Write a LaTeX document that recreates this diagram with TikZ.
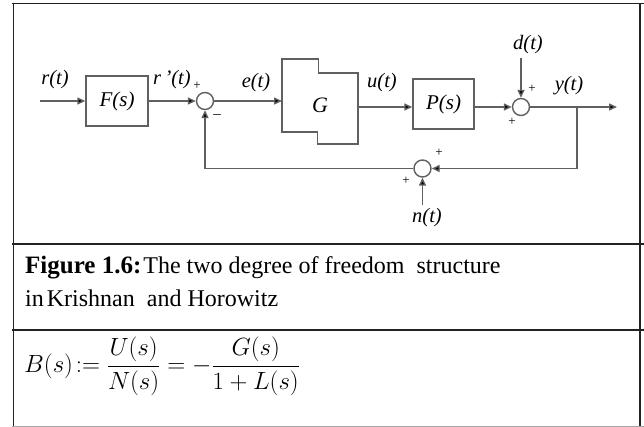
\documentclass[tikz,border=0pt]{standalone}
\usepackage{fontspec}
\usepackage{graphicx}
\setmainfont{Liberation Serif}
\usetikzlibrary{arrows.meta}
\definecolor{linegray}{HTML}{606060}
\definecolor{tablegray}{HTML}{222222}
\tikzset{
  conn/.style={draw=linegray, line width=1.4pt},
  arr/.style={conn, -{Triangle[length=8pt,width=7pt,fill=black]}},
  blk/.style={draw=linegray, line width=1.4pt, inner sep=0pt, font=\fontsize{21}{21}\selectfont\itshape},
  sumc/.style={circle, draw=linegray, line width=1.4pt, minimum size=17pt, inner sep=0pt},
  sig/.style={inner sep=0pt, font=\fontsize{20.5}{20.5}\selectfont\itshape},
  sgn/.style={inner sep=0pt, font=\fontsize{13}{13}\selectfont},
  tline/.style={draw=tablegray, line width=1.8pt}
}
\begin{document}
\begin{tikzpicture}[x=1pt,y=-1pt]
\useasboundingbox (0,0) rectangle (644,427);
\fill[white] (0,0) rectangle (644,427);
% table
\draw[tline] (12,3.5) -- (644,3.5);
\draw[tline] (12,244) -- (644,244);
\draw[tline] (12,330) -- (644,330);
\draw[tline] (13.5,3.5) -- (13.5,427);
\draw[tline] (640,3.5) -- (640,427);
\draw[draw=gray!70, line width=0.8pt] (12,426) -- (644,426);
% blocks
\node[blk, minimum width=62pt, minimum height=50pt] (F) at (117,101) {F(s)};
\node[blk, minimum width=61pt, minimum height=50pt] (P) at (443.5,104) {P(s)};
\node[sumc] (s1) at (205,101) {};
\node[sumc] (s2) at (521,107) {};
\node[sumc] (s3) at (422.5,168.5) {};
% G block
\draw[conn] (282,59) -- (318.5,59) -- (318.5,73) -- (358,73) -- (358,144) -- (317.5,144) -- (317.5,132) -- (282,132) -- cycle;
\node[inner sep=0pt, font=\fontsize{22}{22}\selectfont\itshape] (G) at (320,105) {G};
\coordinate (Gin) at (282,101);
\coordinate (Gout) at (358,107);
\coordinate (in) at (40,101);
\coordinate (dtop) at (521,58);
\coordinate (yout) at (617,107);
\coordinate (br) at (577,107);
\coordinate (brd) at (577,168.5);
\coordinate (fbl) at (205,168.5);
\coordinate (nb) at (422.5,205);
% connectors
\draw[arr] (in) -- (F.west);
\draw[arr] (F.east) -- (s1.west);
\draw[arr] (s1.east) -- (Gin);
\draw[arr] (Gout) -- (Gout -| P.west);
\draw[arr] (P.east |- s2) -- (s2.west);
\draw[arr] (dtop) -- (s2.north);
\draw[arr] (s2.east) -- (yout);
\draw[arr] (br) -- (brd) -- (s3.east);
\draw[arr] (nb) -- (s3.south);
\draw[arr] (s3.west) -- (fbl) -- (s1.south);
% signal labels
\node[sig] (lr) at (55,80) {r(t)};
\node[sig] (lrp) at (172,80) {r\,’(t)};
\node[sig] (le) at (256,83) {e(t)};
\node[sig] (lu) at (382,83) {u(t)};
\node[sig] (ld) at (528,45) {d(t)};
\node[sig] (ly) at (569,86) {y(t)};
\node[sig] (ln) at (427,218) {n(t)};
% signs
\node[sgn] (p1) at (197,86) {+};
\node[sgn, font=\fontsize{15}{15}\selectfont] (m1) at (217,117) {–};
\node[sgn] (p2a) at (532,89) {+};
\node[sgn] (p2b) at (512,122) {+};
\node[sgn] (p3a) at (439,153) {+};
\node[sgn] (p3b) at (406,181) {+};
% caption
\node[anchor=base west, inner sep=0pt, font=\fontsize{24}{30}\selectfont] (cap1) at (25,273)
  {{\fontsize{25}{30}\selectfont\bfseries Figure 1.6:}\hspace{2pt}The two degree of freedom\ \ structure};
\node[anchor=base west, inner sep=0pt, font=\fontsize{24}{30}\selectfont] (cap2) at (25,306)
  {in\hspace{3pt}Krishnan\ \ and Horowitz};
% formula
\node[anchor=west, inner sep=0pt, font=\fontsize{24.5}{25}\selectfont] (eq) at (24,366)
  {$\displaystyle B(s)\!:=\frac{U(s)}{N(s)}=-\frac{G(s)}{1+L(s)}$};
\end{tikzpicture}
\end{document}
